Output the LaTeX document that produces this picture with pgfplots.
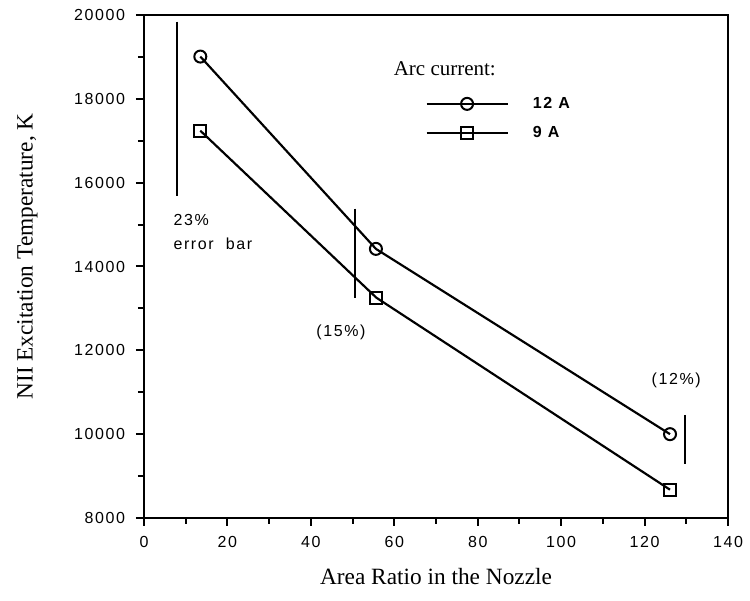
\documentclass[border=0pt]{standalone}
\usepackage{fontspec}
\setmainfont{Liberation Serif}
\newfontfamily\tk[LetterSpace=10]{Liberation Sans}
\usepackage{pgfplots}
\pgfplotsset{compat=1.18}
\begin{document}
\begin{tikzpicture}
\begin{axis}[
  scale only axis, width=350.4pt, height=301.8pt,
  xmin=0, xmax=140, ymin=8000, ymax=20000,
  xtick={0,20,...,140}, ytick={8000,10000,...,20000},
  minor x tick num=1, minor y tick num=1,
  tick pos=left, tick align=outside,
  major tick length=4.8pt, minor tick length=3.6pt,
  axis line style={line width=1.5pt},
  every tick/.style={line width=1.2pt, black},
  scaled y ticks=false,
  /pgf/number format/1000 sep={},
  /pgf/number format/assume math mode=true,
  ticklabel style={font=\tk\fontsize{9.6}{10}\selectfont},
  xticklabel style={yshift=-2.8pt},
  yticklabel style={xshift=-3pt},
  xlabel={Area Ratio in the Nozzle},
  ylabel={NII Excitation Temperature, K},
  every axis x label/.style={at={(axis description cs:0.5,0)}, anchor=center, yshift=-35.4pt, font=\fontsize{14}{16}\selectfont},
  every axis y label/.style={at={(axis description cs:0,0.5)}, anchor=center, rotate=90, xshift=6pt, yshift=70pt, font=\fontsize{14}{16}\selectfont},
  clip=false,
  legend style={draw=none, fill=none, at={(axis cs:67.4,18130)}, anchor=north west, inner sep=0pt, row sep=5.4pt, font=\tk\bfseries\fontsize{9.6}{10}\selectfont,
    /tikz/every odd column/.append style={column sep=12.6pt}},
  legend cell align=left,
  legend image code/.code={\draw[mark repeat=2, mark phase=2] plot coordinates {(0pt,0pt) (24.3pt,0pt) (48.6pt,0pt)};},
]
\addplot[black, line width=1.3pt, mark=o, mark size=3.6pt, mark options={fill=white, line width=1.2pt}]
  coordinates {(13.5,19008) (55.6,14420) (126.1,10000)};
\addlegendentry{12 A}
\addplot[black, line width=1.3pt, mark=square, mark size=3.6pt, mark options={fill=white, line width=1.2pt}]
  coordinates {(13.5,17240) (55.7,13256) (126.1,8675)};
\addlegendentry{9 A}
\addplot[black, line width=1.2pt, forget plot] coordinates {(8,19840) (8,15690)};
\addplot[black, line width=1.2pt, forget plot] coordinates {(50.5,15380) (50.5,13250)};
\addplot[black, line width=1.2pt, forget plot] coordinates {(129.8,10460) (129.8,9290)};
\node[anchor=west, font=\tk\fontsize{9.6}{10}\selectfont, inner sep=0pt] at (axis cs:7,15111) {23\%};
\node[anchor=west, font=\tk\fontsize{9.6}{10}\selectfont, inner sep=0pt] at (axis cs:7,14547) {error\ \ bar};
\node[font=\tk\fontsize{9.6}{10}\selectfont, inner sep=0pt] at (axis cs:47.2,12419) {(15\%)};
\node[font=\tk\fontsize{9.6}{10}\selectfont, inner sep=0pt] at (axis cs:127.6,11286) {(12\%)};
\node[anchor=west, font=\fontsize{12.6}{14}\selectfont, inner sep=0pt] at (axis cs:59.8,18710) {Arc current:};
\end{axis}
\pgfresetboundingbox
\path (current axis.south west) ++(-86.4pt,-49.8pt) coordinate (bl);
\path (current axis.north east) ++(13.2pt,9pt) coordinate (tr);
\useasboundingbox (bl) rectangle (tr);
\end{tikzpicture}
\end{document}
